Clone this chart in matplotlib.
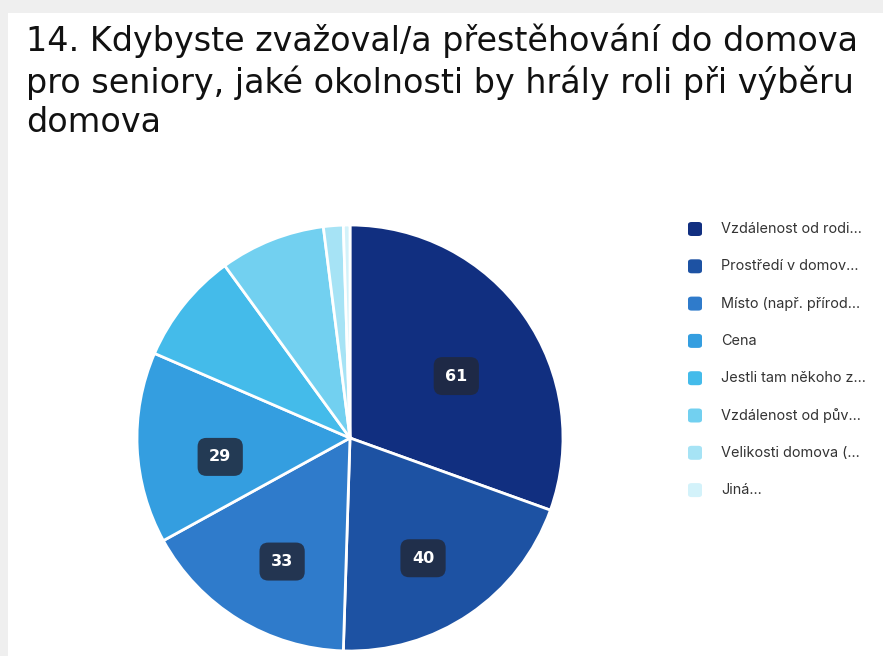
import numpy as np
import matplotlib
matplotlib.use('Agg')
from matplotlib import pyplot as plt
from matplotlib.patches import FancyBboxPatch, Rectangle

# survey answers (number of respondents)
categories = ['Vzdálenost od rodi...', 'Prostředí v domov...', 'Místo (např. přírod...', 'Cena',
              'Jestli tam někoho z...', 'Vzdálenost od pův...', 'Velikosti domova (...', 'Jiná...']
counts = [61, 40, 33, 29, 17, 16, 3, 1]
colors = ['#112f80', '#1d52a3', '#2f7bcb', '#349ee0', '#44bbea', '#72d0f0', '#a6e3f5', '#d3f2fa']
title = '14. Kdybyste zvažoval/a přestěhování do domova\npro seniory, jaké okolnosti by hrály roli při výběru\ndomova'

W, H = 883, 656
fig = plt.figure(figsize=(W / 100, H / 100), dpi=100)
fig.patch.set_facecolor('#efefef')
fig.patches.append(Rectangle((8 / W, 0), 1, 1 - 13 / H, transform=fig.transFigure,
                             facecolor='white', edgecolor='none', zorder=-10))

fig.text(26 / W, 1 - 24 / H, title, ha='left', va='top', fontsize=24, family='DejaVu Sans',
         color='#111111', linespacing=1.24)

# pie, centre and radius in pixels
cx, cy, r = 350, 438, 213
ax = fig.add_axes([(cx - r) / W, (H - cy - r) / H, 2 * r / W, 2 * r / H])
ax.set_zorder(1)
wedges, _ = ax.pie(counts, colors=colors, startangle=90, counterclock=False, radius=1,
                   wedgeprops=dict(edgecolor='white', linewidth=2))
ax.set_xlim(-1, 1)
ax.set_ylim(-1, 1)
ax.set_aspect('equal')
ax.axis('off')

# value badges on the bigger slices
for w, v in zip(wedges, counts):
    if v < 20:
        continue
    ang = np.deg2rad((w.theta1 + w.theta2) / 2)
    ax.text(0.61 * np.cos(ang), 0.61 * np.sin(ang) - 0.06, str(v), ha='center', va='center',
            fontsize=11.5, fontweight='bold', color='white', family='DejaVu Sans',
            bbox=dict(boxstyle='round,pad=0.72,rounding_size=0.55', facecolor='#21293c',
                      alpha=0.85, edgecolor='none'))

# legend
ly0, dy = 229, 37.3
for i, (lab, c) in enumerate(zip(categories, colors)):
    y = ly0 + i * dy
    fig.patches.append(FancyBboxPatch((688 / W, 1 - (y + 7) / H), 14 / W, 14 / H,
                                      boxstyle='round,pad=0,rounding_size=0.004',
                                      transform=fig.transFigure, facecolor=c, edgecolor='none'))
    fig.text(721 / W, 1 - y / H, lab, ha='left', va='center', fontsize=10.4, family='Inter',
             color='#333333')

fig.savefig('out.png', dpi=100)
